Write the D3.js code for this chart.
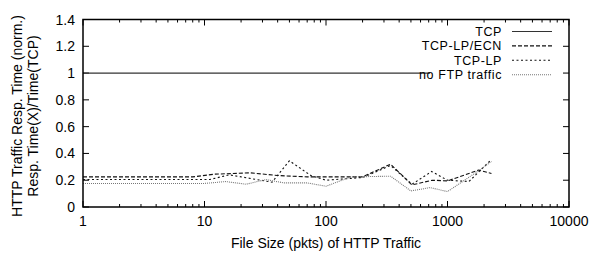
<!DOCTYPE html>
<html>
<head>
<meta charset="utf-8">
<script src="https://cdn.jsdelivr.net/npm/d3@7"></script>
<style>
  body { margin: 0; background: #fff; }
  text { font-family: "Liberation Sans", Arial, sans-serif; }
</style>
</head>
<body>
<div id="chart"></div>
<script>
const xTicks = [1, 10, 100, 1000, 10000];
const yTicks = [0, 0.2, 0.4, 0.6, 0.8, 1, 1.2, 1.4];

const tcp = [[1, 1], [720, 1]];
const tcpLpEcn = [[1, 0.225], [5, 0.225], [8, 0.225], [12, 0.245], [24, 0.255], [40, 0.235], [70, 0.225], [100, 0.225], [200, 0.225], [340, 0.32], [510, 0.165], [750, 0.2], [1000, 0.195], [1800, 0.275], [2300, 0.25]];
const tcpLp = [[1, 0.205], [5, 0.205], [11, 0.205], [16, 0.24], [25, 0.21], [36, 0.185], [50, 0.345], [75, 0.235], [100, 0.2], [200, 0.22], [340, 0.31], [510, 0.17], [740, 0.265], [1000, 0.2], [1500, 0.19], [2300, 0.355]];
const noFtp = [[1, 0.176], [10, 0.176], [15, 0.19], [22, 0.17], [32, 0.205], [45, 0.18], [70, 0.18], [100, 0.155], [160, 0.225], [340, 0.23], [500, 0.12], [720, 0.145], [1000, 0.115], [1800, 0.27], [2300, 0.34]];

const series = [
  { name: 'TCP', data: tcp, color: '#333', dash: null, width: 1.2 },
  { name: 'TCP-LP/ECN', data: tcpLpEcn, color: '#111', dash: '4,2', width: 1.1 },
  { name: 'TCP-LP', data: tcpLp, color: '#111', dash: '2,2.5', width: 1.1 },
  { name: 'no FTP traffic', data: noFtp, color: '#777', dash: '1,1', width: 1.1 }
];

const width = 590, height = 257;
const margin = { top: 19.5, right: 21, bottom: 50, left: 83 };

const svg = d3.select('#chart').append('svg')
  .attr('width', width)
  .attr('height', height);

const x = d3.scaleLog().domain([1, 10000]).range([margin.left, width - margin.right]);
const y = d3.scaleLinear().domain([0, 1.4]).range([height - margin.bottom, margin.top]);

// minor ticks for log axis
const minor = [];
for (let d = 1; d < 10000; d *= 10) {
  for (let k = 2; k <= 9; k++) minor.push(d * k);
}

const tickG = svg.append('g').attr('stroke', '#000').attr('stroke-width', 1);
minor.forEach(v => {
  tickG.append('line').attr('x1', x(v)).attr('x2', x(v)).attr('y1', y(0)).attr('y2', y(0) - 3);
  tickG.append('line').attr('x1', x(v)).attr('x2', x(v)).attr('y1', y(1.4)).attr('y2', y(1.4) + 3);
});
xTicks.forEach(v => {
  tickG.append('line').attr('x1', x(v)).attr('x2', x(v)).attr('y1', y(0)).attr('y2', y(0) - 6);
  tickG.append('line').attr('x1', x(v)).attr('x2', x(v)).attr('y1', y(1.4)).attr('y2', y(1.4) + 6);
});
yTicks.forEach(v => {
  tickG.append('line').attr('x1', x(1)).attr('x2', x(1) + 6).attr('y1', y(v)).attr('y2', y(v));
  tickG.append('line').attr('x1', x(10000)).attr('x2', x(10000) - 6).attr('y1', y(v)).attr('y2', y(v));
});

// tick labels
svg.append('g').selectAll('text').data(xTicks).join('text')
  .attr('x', d => x(d))
  .attr('y', y(0) + 19)
  .attr('text-anchor', 'middle')
  .attr('font-size', 14)
  .text(d => d);

svg.append('g').selectAll('text').data(yTicks).join('text')
  .attr('x', x(1) - 8)
  .attr('y', d => y(d) + 5)
  .attr('text-anchor', 'end')
  .attr('font-size', 14)
  .text(d => d);

// lines
const line = d3.line().x(d => x(d[0])).y(d => y(d[1]));
series.forEach(s => {
  svg.append('path')
    .attr('d', line(s.data))
    .attr('fill', 'none')
    .attr('stroke', s.color)
    .attr('stroke-width', s.width)
    .attr('stroke-dasharray', s.dash);
});

// frame
svg.append('rect')
  .attr('x', x(1)).attr('y', y(1.4))
  .attr('width', x(10000) - x(1)).attr('height', y(0) - y(1.4))
  .attr('fill', 'none').attr('stroke', '#000').attr('stroke-width', 1.5);

// legend
const legend = svg.append('g');
series.forEach((s, i) => {
  const ly = 31.5 + i * 14.4;
  legend.append('text')
    .attr('x', 502).attr('y', ly + 4.5)
    .attr('text-anchor', 'end')
    .attr('font-size', 12.5)
    .attr('letter-spacing', 0.6)
    .text(s.name);
  legend.append('line')
    .attr('x1', 512).attr('x2', 552)
    .attr('y1', ly).attr('y2', ly)
    .attr('stroke', s.color)
    .attr('stroke-width', s.width)
    .attr('stroke-dasharray', s.dash);
});

// axis titles
svg.append('text')
  .attr('x', (x(1) + x(10000)) / 2)
  .attr('y', 248)
  .attr('text-anchor', 'middle')
  .attr('font-size', 14)
  .text('File Size (pkts) of HTTP Traffic');

svg.append('text')
  .attr('transform', 'translate(22,116) rotate(-90)')
  .attr('text-anchor', 'middle')
  .attr('font-size', 14)
  .text('HTTP Traffic Resp. Time (norm.)');
svg.append('text')
  .attr('transform', 'translate(38,116) rotate(-90)')
  .attr('text-anchor', 'middle')
  .attr('font-size', 14)
  .text('Resp. Time(X)/Time(TCP)');
</script>
</body>
</html>
